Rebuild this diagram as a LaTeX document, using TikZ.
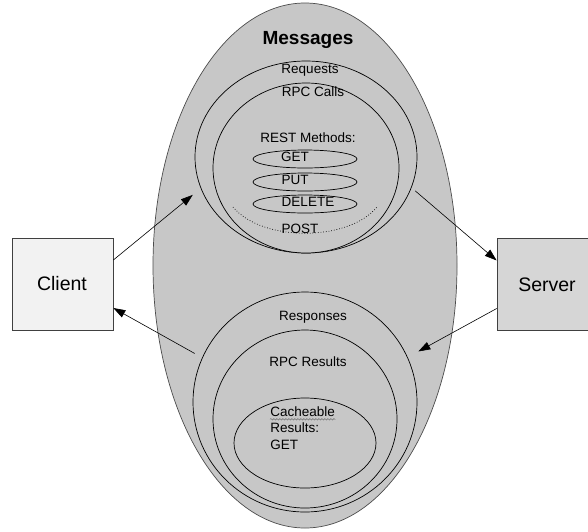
\documentclass[tikz,border=0pt]{standalone}
\usepackage{fontspec}
\setmainfont{Liberation Sans}
\usetikzlibrary{shapes.geometric,arrows.meta,decorations.pathmorphing}

\definecolor{msggray}{gray}{0.78}
\definecolor{clientgray}{gray}{0.95}
\definecolor{servergray}{gray}{0.84}

\begin{document}
\begin{tikzpicture}[x=1pt, y=-1pt, line width=0.7pt,
    ring/.style={draw, ellipse, inner sep=0pt, fill=msggray},
    method/.style={draw, ellipse, inner sep=0pt, minimum width=104pt, minimum height=18pt},
    box/.style={draw=black!75, inner sep=0pt, minimum height=92pt},
    lbl/.style={inner sep=0pt, font=\fontsize{13.5}{16}\selectfont},
    big/.style={inner sep=0pt, font=\fontsize{19.5}{23}\selectfont},
    flow/.style={-{Triangle[length=12pt,width=8pt]}, line width=0.6pt}]
    \useasboundingbox (0, 0) rectangle (588, 531);

    % message sets
    \node[ring, draw=black!70, minimum width=304pt, minimum height=525pt] (messages) at (305, 265.5) {};
    \node[ring, minimum width=222pt, minimum height=192pt] (requests) at (306, 157) {};
    \node[ring, minimum width=186pt, minimum height=170pt] (rpccalls) at (306, 168) {};
    \node[method] (get) at (305, 159) {};
    \node[method] (put) at (305, 182) {};
    \node[method] (delete) at (305, 204) {};
    \draw[dotted] (233, 207) .. controls (262, 242) and (348, 242) .. (377, 207);

    \node[ring, minimum width=224pt, minimum height=220pt] (responses) at (305, 402) {};
    \node[ring, minimum width=184pt, minimum height=178pt] (rpcresults) at (305, 419) {};
    \node[ring, minimum width=142pt, minimum height=90pt] (cacheable) at (305, 443) {};

    % labels
    \node[big, font=\fontsize{19}{23}\selectfont\bfseries] (msgtext) at (308, 40) {Messages};
    \node[lbl] (reqtext) at (310, 70) {Requests};
    \node[lbl] (calltext) at (313, 92) {RPC Calls};
    \node[lbl] (resttext) at (308, 138) {REST Methods:};
    \node[lbl] (gettext) at (295, 157) {GET};
    \node[lbl] (puttext) at (295, 180) {PUT};
    \node[lbl] (deltext) at (308, 202) {DELETE};
    \node[lbl] (posttext) at (300, 229) {POST};
    \node[lbl] (resptext) at (313, 317) {Responses};
    \node[lbl] (restext) at (308, 362) {RPC Results};
    \node[lbl, anchor=west] (cachetext) at (270, 412) {Cacheable};
    \node[lbl, anchor=west] (resulttext) at (270, 428) {Results:};
    \node[lbl, anchor=west] (cgettext) at (270, 445) {GET};
    \draw[black!60, line width=0.4pt, decorate, decoration={snake, amplitude=0.8pt, segment length=3pt}]
        ([yshift=-2pt]cachetext.south west) -- ([yshift=-2pt]cachetext.south east);

    % endpoints
    \node[box, fill=clientgray, minimum width=101pt] (client) at (62.5, 284) {};
    \node[big] (clienttext) at (62, 284) {Client};
    \node[box, fill=servergray, minimum width=103pt] (server) at (548.5, 284.5) {};
    \node[big] (servertext) at (547, 285) {Server};

    % flows
    \draw[flow] ([yshift=24pt]client.east) -- ([shift={(-9pt,-4pt)}]requests.198);
    \draw[flow] ([xshift=5pt]requests.342) -- ([yshift=24pt]server.west);
    \draw[flow] ([yshift=-24pt]server.west) -- ([shift={(11pt,5pt)}]responses.24);
    \draw[flow] ([shift={(-8pt,3pt)}]responses.156) -- ([yshift=-24pt]client.east);
\end{tikzpicture}
\end{document}
